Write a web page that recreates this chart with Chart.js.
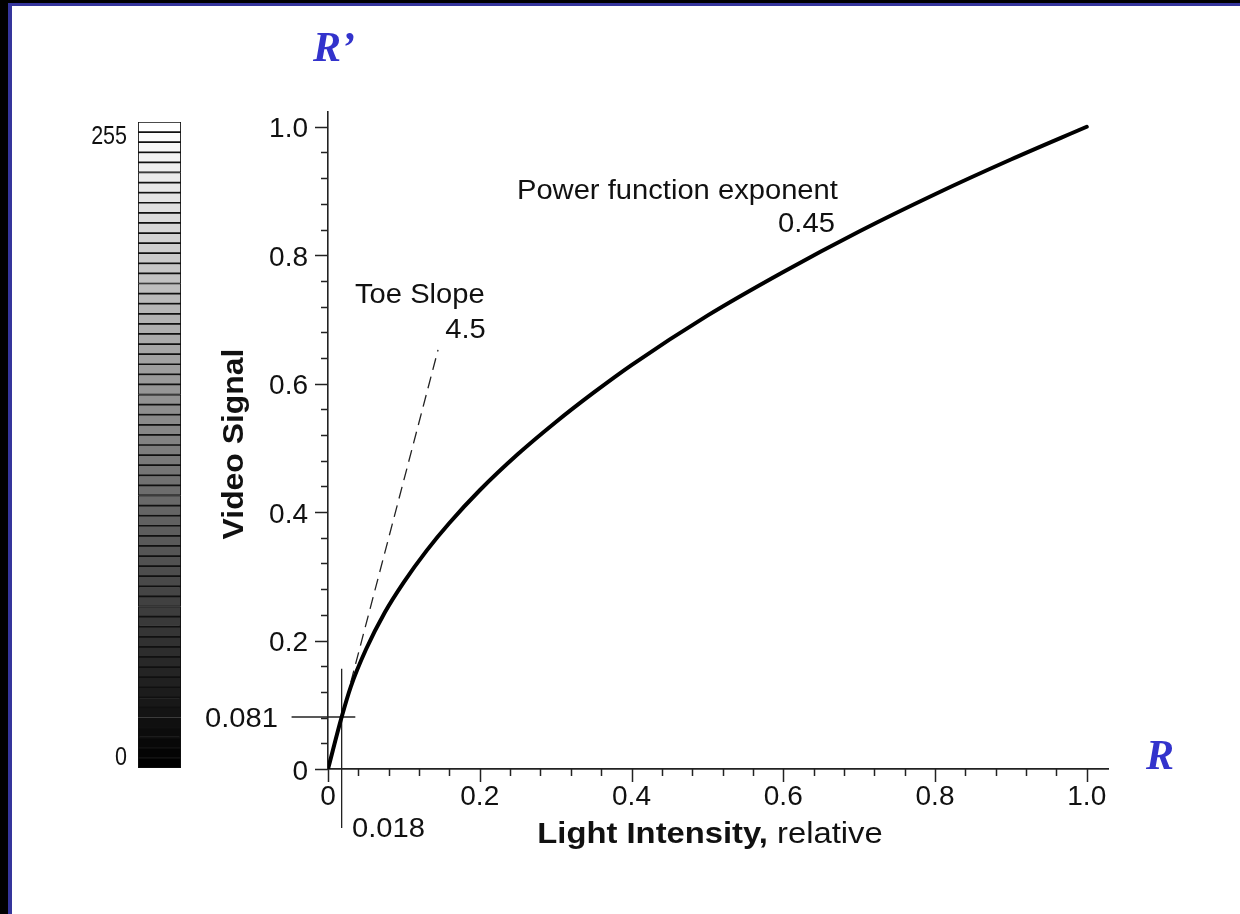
<!DOCTYPE html>
<html>
<head>
<meta charset="utf-8">
<script src="https://cdn.jsdelivr.net/npm/chart.js@4.4.0/dist/chart.umd.min.js"></script>
<style>
body { margin: 0; background: #fff; }
#page { position: relative; width: 1240px; height: 914px; overflow: hidden; background: #fff; }
.bar { position: absolute; }
#left_black { left: 0; top: 0; width: 8px; height: 914px; background: #000; }
#left_blue { left: 8px; top: 3px; width: 4px; height: 911px; background: #35359c; }
#top_black { left: 0; top: 0; width: 1240px; height: 3px; background: #000; }
#top_blue { left: 8px; top: 3px; width: 1232px; height: 3px; background: #35359c; }
#main { position: absolute; left: 0; top: 0; }
#gray { position: absolute; left: 80px; top: 122px; }
</style>
</head>
<body>
<div id="page">
  <div class="bar" id="left_black"></div>
  <div class="bar" id="left_blue"></div>
  <div class="bar" id="top_black"></div>
  <div class="bar" id="top_blue"></div>
  <canvas id="main" width="1240" height="914"></canvas>
  <canvas id="gray" width="101" height="666"></canvas>
</div>
<script>
// curve
var light_intensity = [0, 0.018, 0.03, 0.05, 0.075, 0.1, 0.13, 0.16, 0.2, 0.25, 0.3, 0.35, 0.4, 0.5, 0.6, 0.7, 0.8, 0.9, 1.0];
var video_signal = [0, 0.081, 0.128, 0.186, 0.244, 0.291, 0.34, 0.383, 0.434, 0.49, 0.54, 0.586, 0.629, 0.706, 0.774, 0.837, 0.895, 0.949, 1.0];

// dashed toe slope line (slope 4.5)
var tangent_x = [0.03, 0.145];
var tangent_y = [0.135, 0.6525];

// crosshair at the toe break point
var cross_x = 0.018;
var cross_y = 0.081;
var cross_v_span = [0.156, -0.092];
var cross_h_span = [-0.048, 0.036];

var major_ticks = [0, 0.2, 0.4, 0.6, 0.8, 1.0];
var tick_labels = ['0', '0.2', '0.4', '0.6', '0.8', '1.0'];
var minor_ticks = [0.04, 0.08, 0.12, 0.16, 0.24, 0.28, 0.32, 0.36, 0.44, 0.48, 0.52, 0.56, 0.64, 0.68, 0.72, 0.76, 0.84, 0.88, 0.92, 0.96];

// gray scale strip, bottom (0) to top (255)
var gray_levels = [0, 4, 8, 12, 16, 20, 24, 28, 32, 36, 40, 45, 49, 53, 57, 61, 65, 69, 73, 77, 81, 85, 89, 93, 97, 101, 105, 109, 113, 117, 121, 125,
                   130, 134, 138, 142, 146, 150, 154, 158, 162, 166, 170, 174, 178, 182, 186, 190, 194, 198, 202, 206, 210, 215, 219, 223, 227, 231, 235, 239, 243, 247, 251, 255];
// label text -> band position on the strip
var gray_label_text = ['255', '0'];
var gray_label_pos = [62, 0.5];

const sans = '"Liberation Sans", Arial, sans-serif';
const text_color = '#111';
const stretch = 1.08;

function points(xs, ys) {
    return xs.map((x, i) => ({x: x, y: ys[i]}));
}

function draw_text(ctx, text, x, y, align, font, sx, baseline) {
    ctx.save();
    ctx.font = font;
    ctx.fillStyle = text_color;
    ctx.textBaseline = baseline || 'alphabetic';
    ctx.textAlign = align;
    ctx.translate(x, y);
    ctx.scale(sx, 1);
    ctx.fillText(text, 0, 0);
    ctx.restore();
}

var tick_marks = {
    id: 'tick_marks',
    afterDraw(chart) {
        var ctx = chart.ctx;
        var xs = chart.scales.x;
        var ys = chart.scales.y;
        var area = chart.chartArea;
        ctx.save();
        ctx.strokeStyle = '#222';
        ctx.lineWidth = 1.5;
        ctx.beginPath();
        major_ticks.forEach(v => {
            var px = Math.round(xs.getPixelForValue(v)) + 0.5;
            ctx.moveTo(px, area.bottom); ctx.lineTo(px, area.bottom + 13);
            var py = Math.round(ys.getPixelForValue(v)) + 0.5;
            ctx.moveTo(area.left, py); ctx.lineTo(area.left - 13, py);
        });
        minor_ticks.forEach(v => {
            var px = Math.round(xs.getPixelForValue(v)) + 0.5;
            ctx.moveTo(px, area.bottom); ctx.lineTo(px, area.bottom + 7);
            var py = Math.round(ys.getPixelForValue(v)) + 0.5;
            ctx.moveTo(area.left, py); ctx.lineTo(area.left - 7, py);
        });
        ctx.stroke();
        ctx.restore();
    }
};

var labels_plugin = {
    id: 'labels_plugin',
    afterDraw(chart) {
        var ctx = chart.ctx;
        var xs = chart.scales.x;
        var ys = chart.scales.y;
        var f27 = '27px ' + sans;

        draw_text(ctx, 'Toe Slope', xs.getPixelForValue(0.0356), ys.getPixelForValue(0.726), 'left', f27, stretch);
        draw_text(ctx, '4.5', xs.getPixelForValue(0.208), ys.getPixelForValue(0.671), 'right', f27, stretch);
        draw_text(ctx, 'Power function exponent', xs.getPixelForValue(0.249), ys.getPixelForValue(0.888), 'left', f27, stretch);
        draw_text(ctx, '0.45', xs.getPixelForValue(0.668), ys.getPixelForValue(0.836), 'right', f27, stretch);

        draw_text(ctx, '0.081', xs.getPixelForValue(-0.066), ys.getPixelForValue(cross_y) + 10, 'right', f27, stretch);
        draw_text(ctx, '0.018', xs.getPixelForValue(0.0316), ys.getPixelForValue(-0.106), 'left', f27, stretch);

        // axis titles
        ctx.save();
        ctx.fillStyle = text_color;
        ctx.translate(243, 444);
        ctx.rotate(-Math.PI / 2);
        ctx.scale(1.1, 1);
        ctx.font = 'bold 29px ' + sans;
        ctx.textAlign = 'center';
        ctx.fillText('Video Signal', 0, 0);
        ctx.restore();

        ctx.save();
        ctx.fillStyle = text_color;
        var bold_part = 'Light Intensity,';
        var plain_part = ' relative';
        ctx.font = 'bold 29px ' + sans;
        var w1 = ctx.measureText(bold_part).width;
        ctx.font = '29px ' + sans;
        var w2 = ctx.measureText(plain_part).width;
        ctx.translate(710, 843);
        ctx.scale(1.13, 1);
        ctx.textAlign = 'left';
        ctx.font = 'bold 29px ' + sans;
        ctx.fillText(bold_part, -(w1 + w2) / 2, 0);
        ctx.font = '29px ' + sans;
        ctx.fillText(plain_part, -(w1 + w2) / 2 + w1, 0);
        ctx.restore();

        // R' and R
        ctx.save();
        ctx.fillStyle = '#3333cc';
        ctx.font = 'italic bold 42px "Liberation Serif", "Times New Roman", serif';
        ctx.textAlign = 'left';
        ctx.fillText('R\u2019', 313, 61);
        ctx.fillText('R', 1146, 769);
        ctx.restore();
    }
};

var main_chart = new Chart(document.getElementById('main'), {
    type: 'scatter',
    data: {
        datasets: [
            {
                data: points(light_intensity, video_signal),
                showLine: true,
                borderColor: '#000',
                borderWidth: 4,
                pointRadius: 0,
                cubicInterpolationMode: 'monotone',
                borderCapStyle: 'round',
                borderJoinStyle: 'round',
            },
            {
                data: points(tangent_x, tangent_y),
                showLine: true,
                borderColor: '#222',
                borderWidth: 1.3,
                borderDash: [12, 7],
                pointRadius: 0,
            },
            {
                data: points([cross_x, cross_x], cross_v_span),
                showLine: true,
                borderColor: '#222',
                borderWidth: 1.3,
                pointRadius: 0,
                clip: false,
            },
            {
                data: points(cross_h_span, [cross_y, cross_y]),
                showLine: true,
                borderColor: '#222',
                borderWidth: 1.3,
                pointRadius: 0,
                clip: false,
            },
        ],
    },
    options: {
        responsive: false,
        animation: false,
        devicePixelRatio: 1,
        layout: { padding: { left: 268, top: 112, right: 132, bottom: 45 } },
        plugins: {
            legend: { display: false },
            tooltip: { enabled: false },
        },
        scales: {
            x: {
                type: 'linear',
                min: 0,
                max: 1.028,
                afterBuildTicks: scale => { scale.ticks = major_ticks.map(v => ({value: v})); },
                afterFit: scale => { scale.height = 100; },
                grid: { display: false, drawTicks: false },
                border: { color: '#222', width: 1.8 },
                ticks: {
                    callback: (value, index) => tick_labels[index],
                    color: text_color,
                    font: { family: sans, size: 28 },
                    padding: 11,
                    maxRotation: 0,
                },
            },
            y: {
                type: 'linear',
                min: 0,
                max: 1.023,
                afterBuildTicks: scale => { scale.ticks = major_ticks.map(v => ({value: v})); },
                afterFit: scale => { scale.width = 60; },
                grid: { display: false, drawTicks: false },
                border: { color: '#222', width: 1.6 },
                ticks: {
                    callback: (value, index) => tick_labels[index],
                    color: text_color,
                    font: { family: sans, size: 28 },
                    padding: 20,
                    labelOffset: 3,
                },
            },
        },
    },
    plugins: [tick_marks, labels_plugin],
});

var gray_labels_plugin = {
    id: 'gray_labels_plugin',
    afterDraw(chart) {
        var ctx = chart.ctx;
        var ys = chart.scales.y;
        var left = chart.chartArea.left;
        gray_label_text.forEach((t, i) => {
            draw_text(ctx, t, left - 11, ys.getPixelForValue(gray_label_pos[i]), 'right', '25px ' + sans, 0.86, 'middle');
        });
    }
};

var gray_chart = new Chart(document.getElementById('gray'), {
    type: 'bar',
    data: {
        labels: gray_levels.map(String),
        datasets: [{
            data: gray_levels.map(() => 1),
            backgroundColor: gray_levels.map(g => 'rgb(' + g + ',' + g + ',' + g + ')'),
            borderColor: '#111',
            borderWidth: 1.2,
            borderSkipped: false,
            categoryPercentage: 1,
            barPercentage: 1,
        }],
    },
    options: {
        indexAxis: 'y',
        responsive: false,
        animation: false,
        devicePixelRatio: 1,
        layout: { padding: { top: 0, bottom: 20, left: 0, right: 0 } },
        plugins: {
            legend: { display: false },
            tooltip: { enabled: false },
        },
        scales: {
            x: { display: false, min: 0, max: 1 },
            y: {
                reverse: true,
                afterFit: scale => {
                    scale.width = 58;
                    scale.paddingTop = 0;
                    scale.paddingBottom = 0;
                },
                grid: { display: false, drawTicks: false },
                border: { display: false },
                ticks: { display: false },
            },
        },
    },
    plugins: [gray_labels_plugin],
});
</script>
</body>
</html>
